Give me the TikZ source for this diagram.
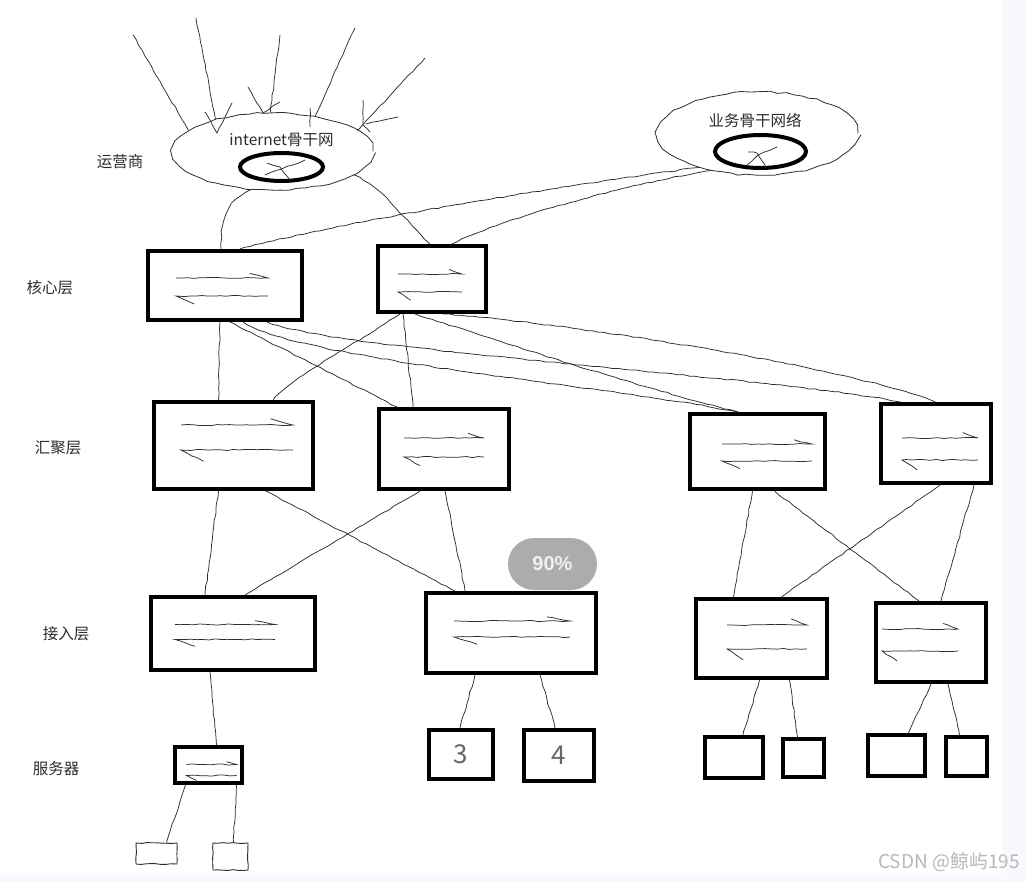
\documentclass[tikz,border=0pt]{standalone}
\usepackage{fontspec}
\newfontfamily\cjk{Noto Sans CJK SC}
\newfontfamily\badgefont{Liberation Sans}
\usetikzlibrary{shapes.geometric,decorations.pathmorphing,calc}
\definecolor{ink}{RGB}{45,45,45}
\definecolor{badge}{RGB}{172,172,172}
\definecolor{pagestrip}{RGB}{248,249,252}
\tikzset{
  devbox/.style={draw=black, rectangle, line width=4pt, inner sep=0pt},
  hostbox/.style={draw=ink, rectangle, line width=0.9pt, inner sep=0pt, decorate, decoration={random steps, segment length=5pt, amplitude=0.5pt}},
  wire/.style={draw=ink, line width=0.75pt, decorate, decoration={random steps, segment length=6pt, amplitude=0.6pt}},
  cloud/.style={draw=ink, ellipse, line width=0.8pt, inner sep=0pt, decorate, decoration={random steps, segment length=8pt, amplitude=0.9pt}},
  ring/.style={draw=black, ellipse, line width=4pt, inner sep=0pt},
  layer/.style={font=\cjk\fontsize{15.5}{17}\selectfont, text=ink, inner sep=0pt},
  pics/swapglyph/.style={code={
    \draw [wire] (-1,1) -- (1,1) -- (0.6,1.5);
    \draw [wire] (1,-1) -- (-1,-1) -- (-0.6,-1.9);
  }}
}

\begin{document}
\begin{tikzpicture}[x=1pt, y=-1pt]
  \useasboundingbox (0,0) rectangle (1026,882);
  \fill [white] (0,0) rectangle (1026,882);
  \fill [pagestrip] (1002,0) rectangle (1026,882);
  \fill [pagestrip] (0,873) rectangle (1026,882);
  \pgfmathsetseed{11}

  % backbone clouds
  \node [cloud, minimum width=200pt, minimum height=77pt] (inet) at (273,151.5) {};
  \node [layer] (inetname) at (281.5,140) {internet骨干网};
  \node [ring, minimum width=83pt, minimum height=28pt] (inetcore) at (281.5,167) {};
  \node [cloud, minimum width=200pt, minimum height=83pt] (biz) at (758,133.5) {};
  \node [layer] (bizname) at (755,121) {业务骨干网络};
  \node [ring, minimum width=91pt, minimum height=33pt] (bizcore) at (760.5,151.5) {};
  \draw [wire] (265,175) -- (305,160);
  \draw [wire] (267,163) -- (280,167) -- (290,180);
  \draw [wire] (747,165) -- (758,155) -- (777,147);
  \draw [wire] (748,152) -- (757,153) -- (765,165) -- (766,168);

  % layer names
  \node [layer] (carrier) at (120,162) {运营商};
  \node [layer] (corename) at (50,288) {核心层};
  \node [layer] (aggname) at (58,448) {汇聚层};
  \node [layer] (accname) at (66,634) {接入层};
  \node [layer] (srvname) at (56,769) {服务器};

  % core layer
  \node [devbox, minimum width=154pt, minimum height=69pt] (c1) at (225,285.5) {};
  \node [devbox, minimum width=108pt, minimum height=66pt] (c2) at (432,279) {};
  % aggregation layer
  \node [devbox, minimum width=159pt, minimum height=87pt] (a1) at (233.5,445.5) {};
  \node [devbox, minimum width=130pt, minimum height=80pt] (a2) at (444,449) {};
  \node [devbox, minimum width=135pt, minimum height=75pt] (a3) at (757.5,451.5) {};
  \node [devbox, minimum width=110pt, minimum height=79pt] (a4) at (936,443.5) {};
  % access layer
  \node [devbox, minimum width=164pt, minimum height=73pt] (s1) at (233,633.5) {};
  \node [devbox, minimum width=170pt, minimum height=80pt] (s2) at (511,633) {};
  \node [devbox, minimum width=131pt, minimum height=79pt] (s3) at (761.5,638.5) {};
  \node [devbox, minimum width=110pt, minimum height=79pt] (s4) at (931,642.5) {};
  % servers
  \node [devbox, minimum width=67pt, minimum height=36pt] (sv) at (208.5,765) {};
  \node [devbox, minimum width=64pt, minimum height=49pt, font=\cjk\fontsize{26}{28}\selectfont, text=black!60] (p3) at (461,754.5) {3};
  \node [devbox, minimum width=70pt, minimum height=51pt, font=\cjk\fontsize{26}{28}\selectfont, text=black!60] (p4) at (559,755.5) {4};
  \node [devbox, minimum width=58pt, minimum height=41pt] (r1) at (734,757.5) {};
  \node [devbox, minimum width=41pt, minimum height=38pt] (r2) at (803.5,758) {};
  \node [devbox, minimum width=57pt, minimum height=41pt] (r3) at (896.5,755.5) {};
  \node [devbox, minimum width=41pt, minimum height=39pt] (r4) at (966.5,756.5) {};
  \node [hostbox, minimum width=41pt, minimum height=21pt] (t1) at (156.5,853.5) {};
  \node [hostbox, minimum width=35pt, minimum height=27pt] (t2) at (230.5,856.5) {};

  % switch marks
  \pic [x=46pt, y=9pt] at ([xshift=-3pt, yshift=-1.5pt]c1.center) {swapglyph};
  \pic [x=32pt, y=9pt] at ([xshift=-2pt, yshift=-4pt]c2.center) {swapglyph};
  \pic [x=56pt, y=12.5pt] at ([xshift=3.5pt, yshift=8pt]a1.center) {swapglyph};
  \pic [x=40pt, y=9.5pt] at ([yshift=1.5pt]a2.center) {swapglyph};
  \pic [x=45pt, y=8.5pt] at ([xshift=9.5pt, yshift=-1pt]a3.center) {swapglyph};
  \pic [x=38pt, y=11pt] at ([xshift=4pt, yshift=-5.5pt]a4.center) {swapglyph};
  \pic [x=50pt, y=7.5pt] at ([xshift=-8pt, yshift=1.5pt]s1.center) {swapglyph};
  \pic [x=58pt, y=8pt] at ([xshift=1pt, yshift=4pt]s2.center) {swapglyph};
  \pic [x=40pt, y=12pt] at ([xshift=5.5pt, yshift=1.5pt]s3.center) {swapglyph};
  \pic [x=38pt, y=11pt] at ([xshift=-11pt, yshift=2.5pt]s4.center) {swapglyph};
  \pic [x=25pt, y=5.5pt] at ([xshift=3pt, yshift=-5pt]sv.center) {swapglyph};

  % uplinks into the internet backbone
  \coordinate (feed1) at (133,35);
  \coordinate (feed2) at (196,18);
  \coordinate (feed3) at (280,35);
  \coordinate (feed4) at (355,28);
  \coordinate (feed5) at (425,58);
  \draw [wire] (feed1) -- (inet.166);
  \draw [wire] (feed2) -- (inet.151);
  \draw [wire] (feed3) -- (inet.94);
  \draw [wire] (feed4) -- (inet.40);
  \draw [wire] (feed5) -- (inet.14);
  \draw [wire] (205,112) -- (217,133) -- (227,113) -- (232,103);
  \draw [wire] (248,87) -- (263,113) -- (280,102);
  \draw [wire] (310,108) -- (310,127);
  \draw [wire] (363,100) -- (363,125) -- (370,132);
  \draw [wire] (366,124) -- (398,117);

  % backbones to core
  \draw [wire] (inet.240) .. controls +(-25,12) and +(0,-30) .. ([xshift=-4pt]c1.north);
  \draw [wire] (inet.344) .. controls +(30,15) and +(-35,-35) .. ([xshift=-2pt]c2.north);
  \draw [wire] (biz.210) .. controls +(-100,13) and +(110,-30) .. ([xshift=15pt]c1.north);
  \draw [wire] (biz.218) .. controls +(-90,15) and +(50,-25) .. ([xshift=20pt]c2.north);

  % core to aggregation
  \draw [wire] ([xshift=-5pt]c1.south) -- ([xshift=-15pt]a1.north);
  \draw [wire] ([xshift=5pt]c1.south) -- ([xshift=-47pt]a2.north);
  \draw [wire] ([xshift=18pt]c1.south) .. controls +(57,38) and +(-117,-25) .. ([xshift=-21pt]a3.north);
  \draw [wire] ([xshift=42pt]c1.south) .. controls +(63,28) and +(-120,-25) .. ([xshift=-36pt]a4.north);
  \draw [wire] ([xshift=-32pt]c2.south) .. controls +(-45,30) and +(12,-18) .. ([xshift=40pt]a1.north);
  \draw [wire] ([xshift=-29pt]c2.south) -- ([xshift=-31pt]a2.north);
  \draw [wire] ([xshift=-17pt]c2.south) .. controls +(65,21) and +(-85,-20) .. ([xshift=-19pt]a3.north);
  \draw [wire] ([xshift=11pt]c2.south) .. controls +(117,8) and +(-85,-35) .. ([xshift=-1pt]a4.north);

  % aggregation to access
  \draw [wire] ([xshift=-15pt]a1.south) -- ([xshift=-28pt]s1.north);
  \draw [wire] ([xshift=32pt]a1.south) -- ([xshift=-56pt]s2.north);
  \draw [wire] ([xshift=-24pt]a2.south) -- ([xshift=12pt]s1.north);
  \draw [wire] ([xshift=1pt]a2.south) -- ([xshift=-46pt]s2.north);
  \draw [wire] ([xshift=-5pt]a3.south) -- ([xshift=-28pt]s3.north);
  \draw [wire] ([xshift=17pt]a3.south) -- ([xshift=-12pt]s4.north);
  \draw [wire] ([xshift=4pt]a4.south) -- ([xshift=20pt]s3.north);
  \draw [wire] ([xshift=38pt]a4.south) -- ([xshift=10pt]s4.north);

  % access to servers
  \draw [wire] ([xshift=-23pt]s1.south) -- ([xshift=8pt]sv.north);
  \draw [wire] ([xshift=-36pt]s2.south) -- ([xshift=-1pt]p3.north);
  \draw [wire] ([xshift=29pt]s2.south) -- ([xshift=-4pt]p4.north);
  \draw [wire] ([xshift=-2pt]s3.south) -- ([xshift=9pt]r1.north);
  \draw [wire] ([xshift=28pt]s3.south) -- ([xshift=-6pt]r2.north);
  \draw [wire] (s4.south) -- ([xshift=12pt]r3.north);
  \draw [wire] ([xshift=17pt]s4.south) -- ([xshift=-7pt]r4.north);
  \draw [wire] ([xshift=-23pt]sv.south) -- ([xshift=10pt]t1.north);
  \draw [wire] ([xshift=28pt]sv.south) -- ([xshift=3pt]t2.north);

  % overlays
  \node [fill=badge, rounded corners=26pt, minimum width=89pt, minimum height=52pt, inner sep=0pt, text=white!82!badge, font=\badgefont\bfseries\fontsize{20}{22}\selectfont] (pct) at (552.5,564) {90\%};
  \node [font=\cjk\fontsize{19}{21}\selectfont, text=black!28, inner sep=0pt] (mark) at (949,862) {CSDN @鲸屿195};
\end{tikzpicture}
\end{document}
